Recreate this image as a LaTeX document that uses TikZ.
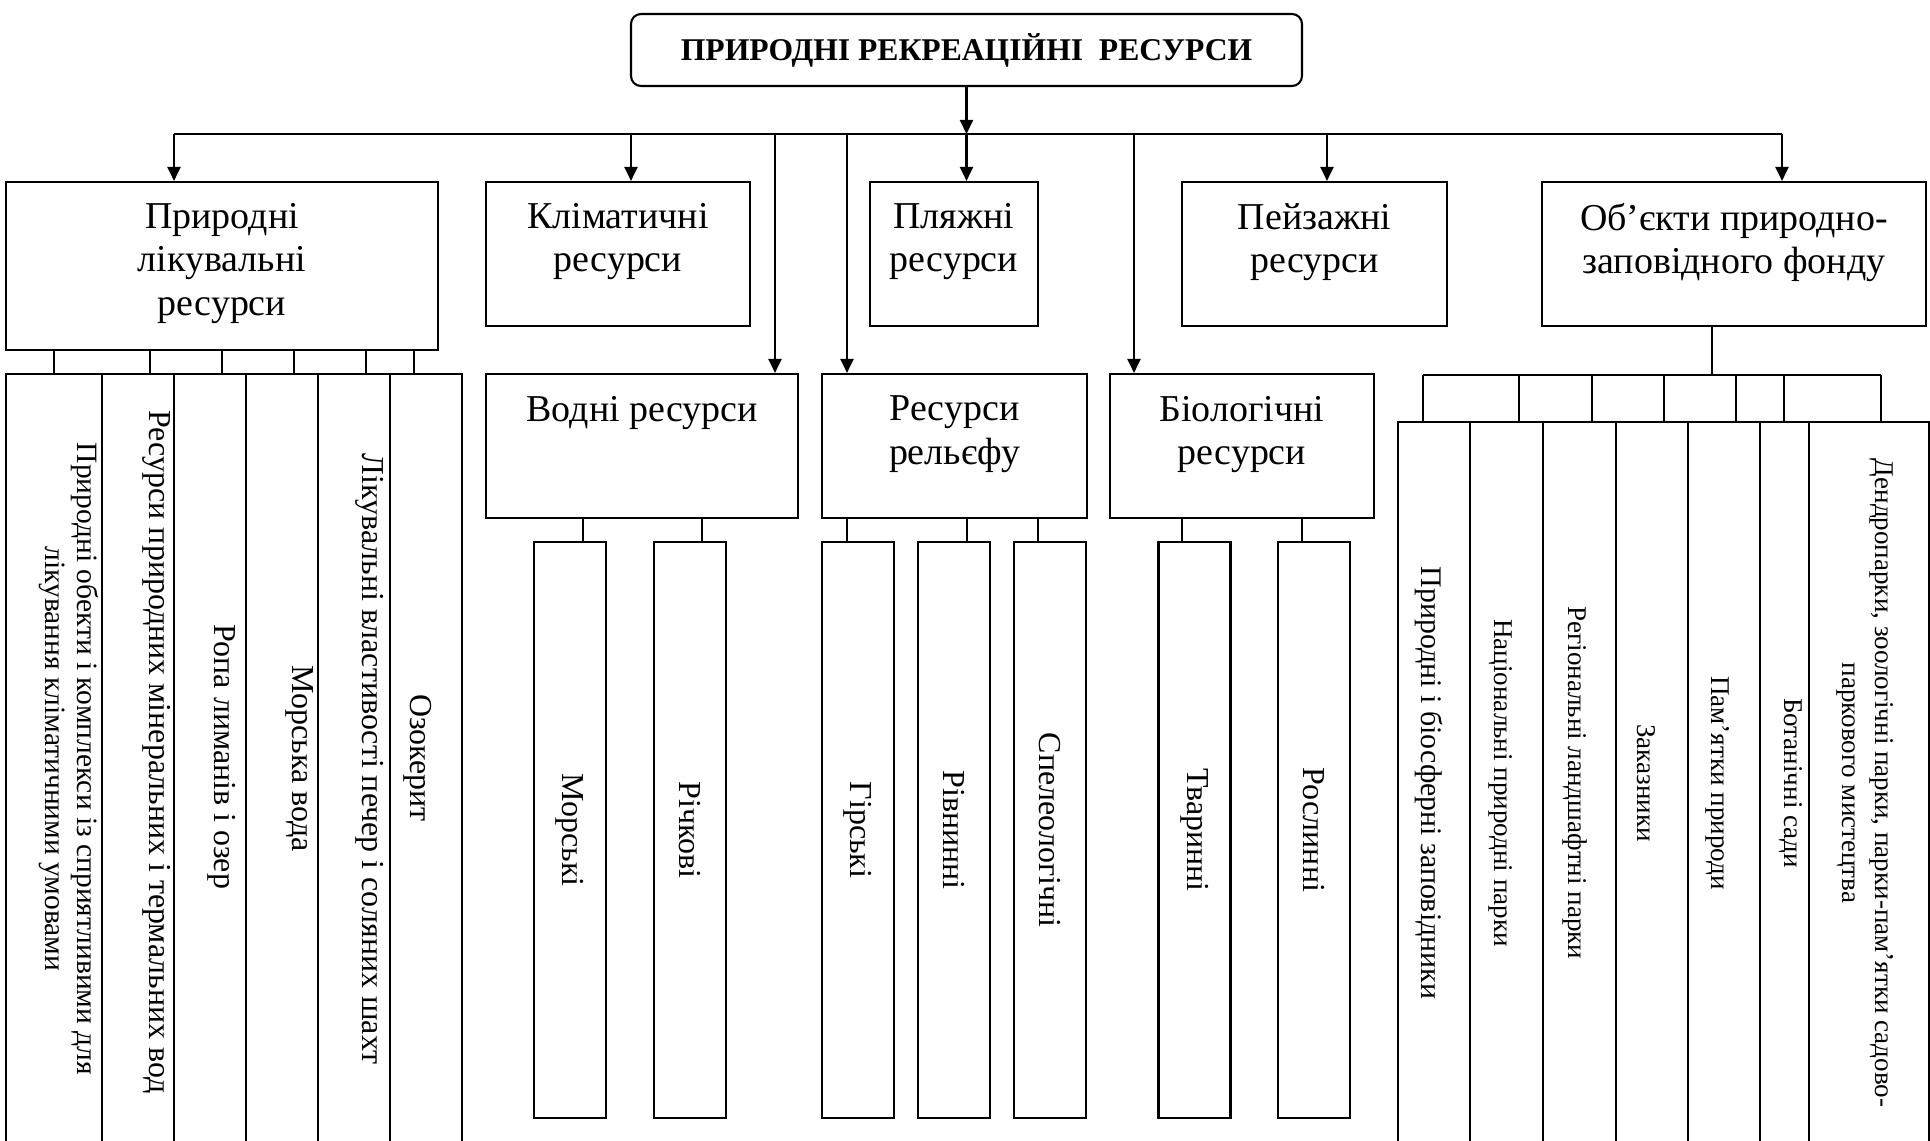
\documentclass[tikz,border=0pt]{standalone}
\usepackage{fontspec}
\setmainfont{Liberation Serif}
\usetikzlibrary{arrows.meta}

\tikzset{
  box/.style={draw, inner sep=0pt},
  arr/.style={-{Triangle[length=1.4mm,width=1.3mm]}},
  hdr/.style={anchor=north, inner sep=0pt, align=center, font=\fontsize{10.8}{12.4}\selectfont},
  vtxt/.style={rotate=-90, inner sep=0pt, align=center, font=\fontsize{9.1}{10.2}\selectfont},
  vsml/.style={rotate=-90, inner sep=0pt, align=center, font=\fontsize{7.7}{9.4}\selectfont},
}

\begin{document}
\begin{tikzpicture}[line width=.6pt]
      \useasboundingbox (0,0) rectangle (19.30,-11.41);

       % title
      \node[box, rounded corners=.1cm, minimum width=6.71cm, minimum height=.72cm,
        font=\bfseries\fontsize{9}{10}\selectfont] (title) at (9.665,-.50)
        {ПРИРОДНІ РЕКРЕАЦІЙНІ~ РЕСУРСИ};
      \coordinate (bus) at (9.665,-1.34);
      \draw[arr] (title.south) -- (bus);
      \draw (1.74,0 |- bus) -- (17.82,0 |- bus);

       % top row
      \node[box, minimum width=4.32cm, minimum height=1.68cm] (lik) at (2.22,-2.66) {};
      \node[hdr] (likT) at (2.22,-2.02) {Природні\\лікувальні\\ресурси};
      \node[box, minimum width=2.64cm, minimum height=1.44cm] (klim) at (6.18,-2.54) {};
      \node[hdr] (klimT) at (6.18,-2.02) {Кліматичні\\ресурси};
      \node[box, minimum width=1.68cm, minimum height=1.44cm] (plyazh) at (9.54,-2.54) {};
      \node[hdr] (plyazhT) at (9.54,-2.02) {Пляжні\\ресурси};
      \node[box, minimum width=2.65cm, minimum height=1.44cm] (peiz) at (13.145,-2.54) {};
      \node[hdr] (peizT) at (13.145,-2.02) {Пейзажні\\ресурси};
      \node[box, minimum width=3.84cm, minimum height=1.44cm] (pzf) at (17.34,-2.54) {};
      \node[hdr] (pzfT) at (17.34,-2.02) {Об’єкти природно-\\заповідного фонду};

      \draw[arr] (1.74,0 |- bus) -- (1.74,0 |- lik.north);
      \draw[arr] (6.31,0 |- bus) -- (6.31,0 |- klim.north);
      \draw[arr] (bus) -- (bus |- plyazh.north);
      \draw[arr] (13.27,0 |- bus) -- (13.27,0 |- peiz.north);
      \draw[arr] (17.82,0 |- bus) -- (17.82,0 |- pzf.north);

       % second row
      \node[box, minimum width=3.12cm, minimum height=1.44cm] (vodni) at (6.42,-4.46) {};
      \node[hdr] (vodniT) at (6.42,-3.95) {Водні ресурси};
      \node[box, minimum width=2.65cm, minimum height=1.44cm] (relief) at (9.545,-4.46) {};
      \node[hdr] (reliefT) at (9.545,-3.95) {Ресурси\\рельєфу};
      \node[box, minimum width=2.64cm, minimum height=1.44cm] (bio) at (12.42,-4.46) {};
      \node[hdr] (bioT) at (12.42,-3.95) {Біологічні\\ресурси};

      \draw[arr] (7.75,0 |- bus) -- (7.75,0 |- vodni.north);
      \draw[arr] (8.47,0 |- bus) -- (8.47,0 |- relief.north);
      \draw[arr] (11.34,0 |- bus) -- (11.34,0 |- bio.north);

       % healing resources
      \node[box, minimum width=.96cm, minimum height=7.72cm] (l1) at (0.54,-7.60) {};
      \node[box, minimum width=.72cm, minimum height=7.72cm] (l2) at (1.38,-7.60) {};
      \node[box, minimum width=.72cm, minimum height=7.72cm] (l3) at (2.10,-7.60) {};
      \node[box, minimum width=.72cm, minimum height=7.72cm] (l4) at (2.82,-7.60) {};
      \node[box, minimum width=.72cm, minimum height=7.72cm] (l5) at (3.54,-7.60) {};
      \node[box, minimum width=.72cm, minimum height=7.72cm] (l6) at (4.26,-7.60) {};
      \node[vtxt, font=\fontsize{8.4}{9.3}\selectfont] (l1T) at (0.69,-7.59) {Природні обекти і комплекси із сприятливими для\\лікування кліматичними умовами};
      \node[vtxt] (l2T) at (1.57,-7.52) {Ресурси природних мінеральних і термальних вод};
      \node[vtxt] (l3T) at (2.22,-7.57) {Ропа лиманів і озер};
      \node[vtxt] (l4T) at (3.00,-7.59) {Морська вода};
      \node[vtxt] (l5T) at (3.70,-7.59) {Лікувальні властивості печер і соляних шахт};
      \node[vtxt] (l6T) at (4.18,-7.58) {Озокерит};
      \draw (0.54,0 |- lik.south) -- (0.54,0 |- l1.north);
      \draw (1.50,0 |- lik.south) -- (1.50,0 |- l2.north);
      \draw (2.22,0 |- lik.south) -- (2.22,0 |- l3.north);
      \draw (2.94,0 |- lik.south) -- (2.94,0 |- l4.north);
      \draw (3.66,0 |- lik.south) -- (3.66,0 |- l5.north);
      \draw (4.14,0 |- lik.south) -- (4.14,0 |- l6.north);

       % water, relief, biology
      \node[box, minimum width=.72cm, minimum height=5.76cm] (morski) at (5.70,-8.30) {};
      \node[vtxt] (morskiT) at (5.70,-8.30) {Морські};
      \node[box, minimum width=.72cm, minimum height=5.76cm] (richk) at (6.90,-8.30) {};
      \node[vtxt] (richkT) at (6.90,-8.30) {Річкові};
      \node[box, minimum width=.72cm, minimum height=5.76cm] (girski) at (8.58,-8.30) {};
      \node[vtxt] (girskiT) at (8.58,-8.30) {Гірські};
      \node[box, minimum width=.72cm, minimum height=5.76cm] (rivn) at (9.54,-8.30) {};
      \node[vtxt] (rivnT) at (9.54,-8.30) {Рівнинні};
      \node[box, minimum width=.72cm, minimum height=5.76cm] (speleo) at (10.50,-8.30) {};
      \node[vtxt] (speleoT) at (10.50,-8.30) {Спелеологічні};
      \node[box, minimum width=.72cm, minimum height=5.76cm] (tvar) at (11.945,-8.30) {};
      \node[vtxt] (tvarT) at (11.945,-8.30) {Тваринні};
      \node[box, minimum width=.72cm, minimum height=5.76cm] (rosl) at (13.14,-8.30) {};
      \node[vtxt] (roslT) at (13.14,-8.30) {Рослинні};
      \draw (5.83,0 |- vodni.south) -- (5.83,0 |- morski.north);
      \draw (7.02,0 |- vodni.south) -- (7.02,0 |- richk.north);
      \draw (8.47,0 |- relief.south) -- (8.47,0 |- girski.north);
      \draw (9.67,0 |- relief.south) -- (9.67,0 |- rivn.north);
      \draw (10.38,0 |- relief.south) -- (10.38,0 |- speleo.north);
      \draw (11.82,0 |- bio.south) -- (11.82,0 |- tvar.north);
      \draw (13.02,0 |- bio.south) -- (13.02,0 |- rosl.north);

       % reserve fund
      \coordinate (bar) at (17.12,-3.75);
      \draw (bar |- pzf.south) -- (bar);
      \draw (14.23,0 |- bar) -- (18.81,0 |- bar);
      \node[box, minimum width=.72cm, minimum height=7.24cm] (r1) at (14.34,-7.84) {};
      \node[box, minimum width=.73cm, minimum height=7.24cm] (r2) at (15.065,-7.84) {};
      \node[box, minimum width=.73cm, minimum height=7.24cm] (r3) at (15.795,-7.84) {};
      \node[box, minimum width=.72cm, minimum height=7.24cm] (r4) at (16.52,-7.84) {};
      \node[box, minimum width=.72cm, minimum height=7.24cm] (r5) at (17.24,-7.84) {};
      \node[box, minimum width=.49cm, minimum height=7.24cm] (r6) at (17.845,-7.84) {};
      \node[box, minimum width=1.20cm, minimum height=7.24cm] (r7) at (18.69,-7.84) {};
      \node[vsml, font=\fontsize{8.5}{9.8}\selectfont] (r1T) at (14.29,-7.83) {Природні і біосферні заповідники};
      \node[vsml] (r2T) at (15.01,-7.83) {Національні природні парки};
      \node[vsml] (r3T) at (15.75,-7.83) {Регіональні ландшафтні парки};
      \node[vsml] (r4T) at (16.46,-7.83) {Заказники};
      \node[vsml] (r5T) at (17.18,-7.83) {Пам’ятки природи};
      \node[vsml] (r6T) at (17.91,-7.83) {Ботанічні сади};
      \node[vsml] (r7T) at (18.65,-7.83) {Дендропарки, зоологічні парки, парки-пам’ятки садово-\\паркового мистецтва};
      \draw (14.23,0 |- bar) -- (14.23,0 |- r1.north);
      \draw (15.19,0 |- bar) -- (15.19,0 |- r2.north);
      \draw (15.92,0 |- bar) -- (15.92,0 |- r3.north);
      \draw (16.64,0 |- bar) -- (16.64,0 |- r4.north);
      \draw (17.36,0 |- bar) -- (17.36,0 |- r5.north);
      \draw (17.84,0 |- bar) -- (17.84,0 |- r6.north);
      \draw (18.81,0 |- bar) -- (18.81,0 |- r7.north);
    \end{tikzpicture}
\end{document}
